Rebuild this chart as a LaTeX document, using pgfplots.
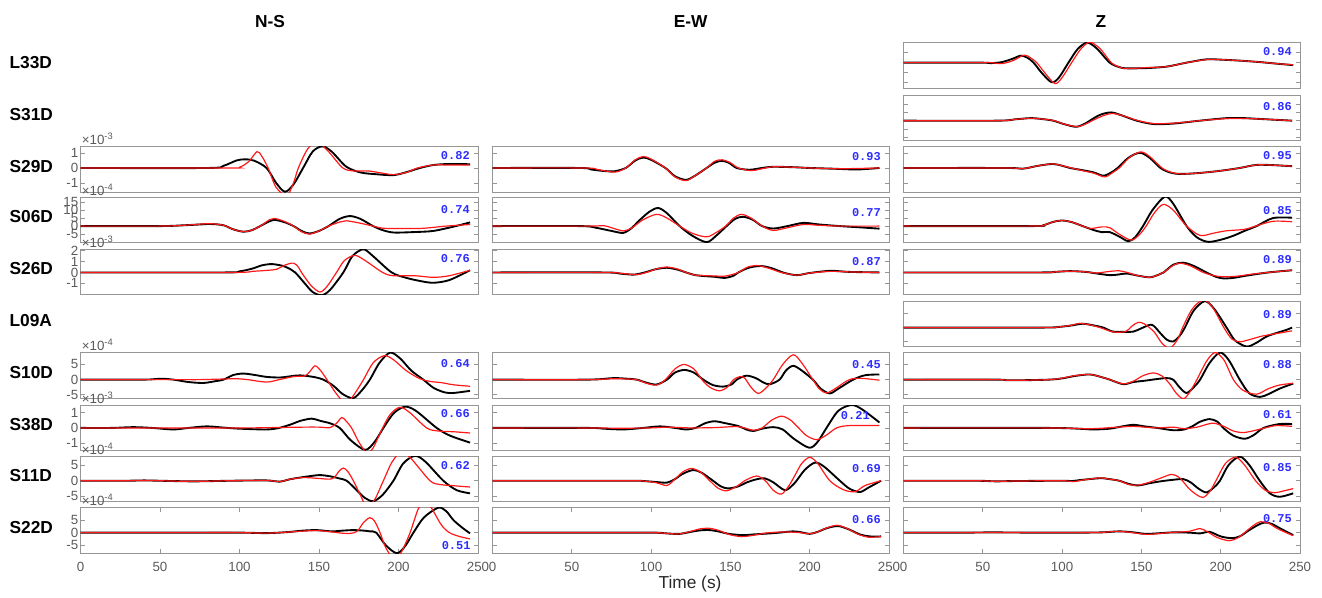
\documentclass[border=0pt]{standalone}
\usepackage{fontspec}
\setmainfont{Liberation Sans}
\newfontfamily\monobf{Liberation Mono}
\usepackage{pgfplots}
\pgfplotsset{compat=1.18}
\definecolor{boxgray}{RGB}{150,150,150}
\definecolor{tickgray}{RGB}{90,90,90}
\definecolor{cblue}{RGB}{45,45,255}
\definecolor{sred}{RGB}{255,25,25}
\pgfplotsset{
 panel/.style={scale only axis, height=34.125pt, xmin=0, xmax=250, anchor=north west,
  axis line style={draw=boxgray, line width=0.6pt},
  tick align=inside, major tick length=3pt,
  major tick style={draw=boxgray, line width=0.5pt},
  xtick=\empty, ytick pos=both, yticklabel pos=left,
  /pgf/number format/assume math mode=true,
  yticklabel style={font=\fontsize{10}{11}\selectfont, text=tickgray, inner sep=1.5pt},
  clip mode=individual},
 ns/.style={width=298.125pt},
 ew/.style={width=297.375pt, yticklabels={}},
 zc/.style={width=297.375pt, yticklabels={}},
 bottom/.style={xtick={0,50,100,150,200,250}, xtick pos=both, xticklabel pos=bottom,
  xticklabel style={font=\fontsize{10}{11}\selectfont, text=tickgray, yshift=-3pt}},
 blk/.style={black, line width=1.4pt, smooth, no marks},
 rd/.style={sred, line width=0.9pt, smooth, no marks},
}
\tikzset{ccnum/.style={anchor=east, inner sep=0pt, font=\monobf\bfseries\fontsize{9}{10}\selectfont, text=cblue},
 expo/.style={anchor=base west, inner sep=0pt, yshift=1.5pt, xshift=0.8pt, font=\fontsize{10}{11}\selectfont, text=tickgray}}
\begin{document}
\begin{tikzpicture}
\path[use as bounding box] (0,0) rectangle (991.5pt,-447.75pt);
\node[anchor=base, font=\bfseries\fontsize{13}{15}\selectfont] at (202.5pt,-20.25pt) {N-S};
\node[anchor=base, font=\bfseries\fontsize{13}{15}\selectfont] at (518pt,-20.25pt) {E-W};
\node[anchor=base, font=\bfseries\fontsize{13}{15}\selectfont] at (825.75pt,-20.25pt) {Z};
\foreach \lab/\yy in {L33D/51.19, S31D/90.41, S29D/129.19, S06D/167.14, S26D/206.14, L09A/244.91, S10D/283.69, S38D/322.91, S11D/361.16, S22D/399.94}
  \node[anchor=base west, inner sep=0pt, font=\bfseries\fontsize{13}{15}\selectfont] at (7pt,-\yy pt) {\lab};
\node[anchor=base, font=\fontsize{13}{15}\selectfont, text={rgb,255:red,40;green,40;blue,40}] at (517.5pt,-441pt) {Time (s)};

% ---------------- L33D ----------------
\begin{axis}[panel, zc, at={(677.625pt,-32.03pt)}, ymin=-2.57, ymax=2.0, ytick={-2,-1,0,1,2}]
\addplot[blk] coordinates {(0,0)(48,0)(55,-0.05)(62,0.05)(69,0.4)(74,0.7)(78,0.5)(82,0)(87,-1.0)(93.4,-1.97)(98,-1.5)(104,0)(110,1.4)(116,2.0)(122,1.4)(130,0)(136,-0.45)(140.6,-0.57)(153,-0.55)(166,-0.4)(178.5,0)(191,0.33)(200,0.3)(212,0.2)(225,0.05)(235,-0.1)(245.7,-0.25)};
\addplot[rd] coordinates {(0,0)(48,0)(55,0)(62,-0.1)(69,0.2)(76,0.75)(80,0.5)(84,0)(89,-1.0)(95.5,-2.1)(100,-1.5)(106,0)(112,1.4)(117.5,2.05)(124,1.4)(131,0)(137,-0.5)(141,-0.6)(153,-0.5)(166,-0.4)(178.5,0)(191,0.3)(200,0.3)(212,0.2)(225,0.05)(235,-0.1)(245.7,-0.22)};
\node[ccnum] at (rel axis cs:0.98,0.80) {0.94};
\end{axis}

% ---------------- S31D ----------------
\begin{axis}[panel, zc, at={(677.625pt,-71.25pt)}, ymin=-2.36, ymax=3.05, ytick={-2,-1,0,1,2,3}]
\addplot[blk] coordinates {(0,0)(59,0)(70,0.15)(80,0.3)(87,0.2)(94.4,0)(101,-0.4)(109,-0.73)(115,-0.3)(117.5,0)(124,0.7)(131,0.98)(138,0.6)(147,0)(157.5,-0.4)(170,-0.35)(187,0)(203.7,0.3)(215,0.3)(225,0.2)(245,0)};
\addplot[rd] coordinates {(0,0)(59,0)(70,0.15)(80,0.28)(87,0.2)(95,0)(102,-0.45)(110,-0.7)(116,-0.3)(119,0)(126,0.6)(132,0.85)(139,0.55)(148,0)(158,-0.35)(170,-0.3)(187,0)(203.7,0.25)(215,0.25)(225,0.2)(245,0)};
\node[ccnum] at (rel axis cs:0.98,0.74) {0.86};
\end{axis}

% ---------------- S29D ----------------
\begin{axis}[panel, ns, at={(60.375pt,-110.03pt)}, ymin=-1.63, ymax=1.43, ytick={-1,0,1}]
\addplot[blk] coordinates {(0,0)(80,0)(90,0.15)(98,0.5)(103,0.58)(109,0.5)(117,0)(123,-1.0)(128.6,-1.6)(134,-1.1)(140,0)(146,1.1)(152,1.45)(158,1.1)(167,0.1)(176,-0.3)(186,-0.42)(197,-0.48)(206,-0.25)(213.5,0)(222,0.2)(232,0.27)(245,0.25)};
\addplot[rd] coordinates {(0,0)(92,0)(100,0.05)(106,0.45)(111,1.1)(114,0.8)(118,0)(123,-1.3)(129.7,-1.85)(134,-1.0)(137,0)(143,1.3)(149,1.75)(156,1.1)(165,0)(172,-0.2)(181,-0.2)(190,-0.35)(197,-0.45)(205,-0.3)(212,0)(222,0.2)(232,0.2)(245,0.2)};
\node[ccnum] at (rel axis cs:0.98,0.80) {0.82};
\node[expo] at (rel axis cs:0,1) {×10\textsuperscript{-3}};
\end{axis}
\begin{axis}[panel, ew, at={(369.375pt,-110.03pt)}, ymin=-1.63, ymax=1.43, ytick={-1,0,1}]
\addplot[blk] coordinates {(0,0)(55,0)(62,-0.1)(70,-0.2)(77,-0.22)(84,0)(90,0.5)(95,0.7)(100,0.55)(109,0)(115,-0.55)(122,-0.8)(128,-0.5)(135,0)(140,0.35)(144.5,0.48)(149,0.35)(154,0)(162,-0.12)(170,0)(177,0.08)(190,0.05)(200,0)(215,-0.05)(230,-0.1)(244,0)};
\addplot[rd] coordinates {(0,0)(58,0)(66,-0.1)(77,-0.28)(84,0)(90,0.55)(95,0.77)(100,0.6)(109,0)(115,-0.6)(122,-0.85)(128,-0.5)(135,0)(140,0.45)(145,0.55)(150,0.35)(155,0)(163,-0.18)(170,-0.05)(177,0.08)(190,0.05)(200,0)(220,-0.05)(244,0)};
\node[ccnum] at (rel axis cs:0.98,0.78) {0.93};
\end{axis}
\begin{axis}[panel, zc, at={(677.625pt,-110.03pt)}, ymin=-1.63, ymax=1.43, ytick={-1,0,1}]
\addplot[blk] coordinates {(0,0)(65,0)(75,-0.05)(85,0.15)(94,0.27)(100,0.15)(105,0)(113,-0.15)(120,-0.3)(126,-0.52)(131,-0.3)(135,0)(142,0.7)(149,1.02)(155,0.7)(162,0)(168,-0.3)(174,-0.4)(185,-0.35)(199,-0.2)(212,0)(222,0.2)(231,0.2)(245,0.12)};
\addplot[rd] coordinates {(0,0)(65,0)(75,-0.05)(85,0.15)(94,0.28)(100,0.15)(106,0)(113,-0.18)(120,-0.35)(127,-0.6)(132,-0.3)(136,0)(143,0.75)(150,1.08)(156,0.7)(163,0)(169,-0.3)(175,-0.4)(185,-0.35)(199,-0.2)(212,0)(222,0.2)(231,0.2)(245,0.12)};
\node[ccnum] at (rel axis cs:0.98,0.80) {0.95};
\end{axis}

% ---------------- S06D ----------------
\begin{axis}[panel, ns, at={(60.375pt,-147.98pt)}, ymin=-10.4, ymax=17.9, ytick={-5,0,5,10,15}]
\addplot[blk] coordinates {(0,0)(50,0)(65,0.5)(75,1.0)(82,1.3)(90,0.5)(96,-2)(102.5,-3.5)(108,-2.5)(113,0)(121,3.75)(128,2.5)(134,0)(139,-3)(144,-4.6)(150,-3)(156,0)(163,4.5)(169.5,6.25)(176,4.5)(184,0)(190,-2.5)(197,-4)(210,-3.7)(222,-3)(236,0)(245,2.3)};
\addplot[rd] coordinates {(0,0)(50,0)(65,0.5)(75,1.2)(82,1.5)(90,0.5)(96,-2)(102.5,-3.5)(108,-2.5)(113,0)(119,4)(122,4.8)(128,3)(134,0)(139,-3.5)(144,-5)(150,-3)(156,0)(163,2.5)(167,3.3)(175,2)(184,0)(190,-1.3)(200,-1.5)(215,-1.4)(230,0)(245,1)};
\node[ccnum] at (rel axis cs:0.98,0.74) {0.74};
\node[expo] at (rel axis cs:0,1) {×10\textsuperscript{-4}};
\end{axis}
\begin{axis}[panel, ew, at={(369.375pt,-147.98pt)}, ymin=-10.4, ymax=17.9, ytick={-5,0,5,10,15}]
\addplot[blk] coordinates {(0,0)(55,0)(65,-1)(75,-3)(82.5,-4.2)(88,-1)(92,3)(99,9)(104.5,11.25)(110,8)(118,0)(126,-6)(135,-10)(141,-6)(147.6,0)(153,4.5)(158,5.8)(164,4)(170,0)(177,-1.5)(186,0)(196,2)(206,1)(219,0)(232,-0.8)(244,-1.6)};
\addplot[rd] coordinates {(0,0)(60,0)(70,0.3)(75,-1)(82.5,-3)(88,-1)(95,4)(103.5,7.3)(110,5)(118,0)(126,-4.5)(135,-6.7)(141,-4)(147,0)(152,5)(157,7.3)(163,5)(170,0)(177,-2.7)(186,-1)(196,1)(206,0.5)(219,0)(244,0)};
\node[ccnum] at (rel axis cs:0.98,0.67) {0.77};
\end{axis}
\begin{axis}[panel, zc, at={(677.625pt,-147.98pt)}, ymin=-10.4, ymax=17.9, ytick={-5,0,5,10,15}]
\addplot[blk] coordinates {(0,0)(80,0)(88,0.5)(94,2.5)(99.7,3.5)(106,2.5)(113,0)(120,-2.5)(125,-3.75)(130,-3.75)(136,-6.5)(141.7,-9.4)(146,-7)(151,0)(157,10)(164.8,18.3)(170,14)(178.5,0)(185,-7)(192,-9.8)(200,-8.5)(208,-6)(215,-3)(222.6,0)(233,5)(245,5.2)};
\addplot[rd] coordinates {(0,0)(80,0)(88,0.5)(94,2.5)(99.7,3.5)(106,2.5)(113,0)(118,-1.5)(125,-0.5)(130,-1)(136,-5)(143.7,-8.75)(149,-5)(153,0)(158,8)(163.7,13.5)(170,10)(178.5,0)(187,-5.8)(195,-4.5)(203,-3)(215,-2)(222,0)(233,3)(245,2.7)};
\node[ccnum] at (rel axis cs:0.98,0.70) {0.85};
\end{axis}

% ---------------- S26D ----------------
\begin{axis}[panel, ns, at={(60.375pt,-186.98pt)}, ymin=-2.06, ymax=2.13, ytick={-1,0,1,2}]
\addplot[blk] coordinates {(0,0)(90,0)(100,0.1)(108,0.35)(114,0.65)(120,0.77)(126,0.65)(130,0.45)(135,0)(141,-1)(146,-1.8)(151.7,-2.1)(157,-1.6)(165.3,0)(171,1.5)(177.9,2.13)(184,1.5)(195.7,0)(205,-0.5)(214,-0.8)(222,-0.95)(232,-0.7)(245,0.2)};
\addplot[rd] coordinates {(0,0)(95,0)(108,0.1)(118,0.2)(123.4,0.3)(129,0.7)(134,0.86)(137,0.5)(139,0)(145,-1.2)(150.6,-1.8)(155,-1.3)(161,0)(166,1.1)(172.6,1.57)(179,1.1)(190,0)(196.6,-0.3)(210,-0.3)(222,-0.45)(232,-0.3)(245,0.2)};
\node[ccnum] at (rel axis cs:0.98,0.80) {0.76};
\node[expo] at (rel axis cs:0,1) {×10\textsuperscript{-3}};
\end{axis}
\begin{axis}[panel, ew, at={(369.375pt,-186.98pt)}, ymin=-2.06, ymax=2.13, ytick={-1,0,1,2}]
\addplot[blk] coordinates {(0,0)(70,0)(80,-0.1)(89,-0.2)(96,0)(103,0.3)(110,0.43)(117,0.25)(122,0)(128,-0.25)(135,-0.35)(140,-0.4)(146.5,-0.5)(152,-0.3)(155,0)(162,0.45)(169.6,0.59)(177,0.35)(183,0)(191.7,-0.25)(200,-0.05)(213,0.15)(225,0.05)(244,0)};
\addplot[rd] coordinates {(0,0)(70,0)(82,-0.1)(91,-0.2)(97,0)(104,0.35)(110,0.5)(117,0.3)(122,0)(128,-0.25)(135,-0.3)(141,-0.33)(146,-0.35)(151,-0.2)(155,0)(161,0.5)(167.5,0.63)(175,0.35)(182,0)(191.7,-0.25)(200,-0.05)(213,0.1)(225,0.05)(244,0)};
\node[ccnum] at (rel axis cs:0.98,0.74) {0.87};
\end{axis}
\begin{axis}[panel, zc, at={(677.625pt,-186.98pt)}, ymin=-2.06, ymax=2.13, ytick={-1,0,1,2}]
\addplot[blk] coordinates {(0,0)(86,0)(95,0.05)(105,0.12)(115,0.05)(122,-0.1)(130,-0.25)(135,-0.2)(140.7,-0.1)(148,-0.3)(155.4,-0.45)(161,-0.2)(164,0)(170,0.7)(176.4,0.9)(183,0.6)(191,0)(197,-0.4)(201.6,-0.55)(208,-0.5)(216,-0.3)(230,0)(245,0.2)};
\addplot[rd] coordinates {(0,0)(86,0)(95,0.05)(105,0.12)(115,0.05)(122,-0.05)(130,0.1)(136,0.15)(141,0)(148,-0.3)(155.4,-0.45)(161,-0.2)(164,0)(170,0.65)(174.5,0.85)(181,0.6)(189,0)(196,-0.3)(201.6,-0.4)(210,-0.35)(220,-0.15)(230,0)(245,0.2)};
\node[ccnum] at (rel axis cs:0.98,0.765) {0.89};
\end{axis}

% ---------------- L09A ----------------
\begin{axis}[panel, zc, at={(677.625pt,-225.75pt)}, ymin=-1.33, ymax=1.87, ytick={-1,0,1}]
\addplot[blk] coordinates {(0,0)(86,0)(98,0.05)(106,0.15)(113,0.27)(120,0.15)(126,0)(132,-0.28)(140,-0.3)(145,-0.28)(150,-0.05)(155.4,0.2)(158,0.1)(162,-0.4)(166,-0.85)(170,-0.98)(174,-0.6)(177.4,0)(183,1.2)(190,1.86)(196,1.3)(203.7,0)(209,-0.9)(216.3,-1.33)(222,-1.1)(228.9,-0.63)(236,-0.35)(241.5,-0.16)(245,0)};
\addplot[rd] coordinates {(0,0)(86,0)(98,0.05)(106,0.17)(111,0.3)(118,0.18)(124,0)(132,-0.3)(140,-0.28)(144,0.1)(148,0.37)(152,0.25)(158,-0.3)(163,-1.1)(168,-1.45)(173,-0.8)(176,0)(182,1.3)(189,1.95)(195,1.4)(202,0)(207,-0.8)(212,-1.0)(218,-0.85)(226,-0.6)(236,-0.4)(245,-0.23)};
\node[ccnum] at (rel axis cs:0.98,0.71) {0.89};
\end{axis}

% ---------------- S10D ----------------
\begin{axis}[panel, ns, at={(60.375pt,-264.53pt)}, ymin=-6.13, ymax=8.87, ytick={-5,0,5}]
\addplot[blk] coordinates {(0,0)(40,0)(50,0.3)(58.4,0)(68,-0.8)(77.3,-1.1)(85,-0.5)(90,0)(96,1.5)(102.4,2)(110,1.5)(117,0.9)(125.5,0.7)(132,1.1)(138,1.4)(146.4,0.9)(152.7,0)(159,-2)(165,-4.8)(171.6,-6.1)(177,-3.5)(182,0)(188,5.5)(194.7,8.9)(201,7)(208,3)(215.6,0)(222,-2.7)(229,-4.2)(234.5,-4.4)(245,-3.7)};
\addplot[rd] coordinates {(0,0)(60,0)(75,0)(90,0.2)(98.2,0.3)(105,0)(117,-0.8)(125,0)(134,1)(141,1.2)(144,2.5)(147.5,4.55)(151,3)(155,0)(160,-4)(165,-7.2)(168,-7.5)(172,-5)(178,0)(184,5.5)(191,7.9)(197,6.5)(205,2.9)(213.5,0.3)(220,-0.6)(227,-1.0)(234.5,-1.7)(245,-2.2)};
\node[ccnum] at (rel axis cs:0.98,0.77) {0.64};
\node[expo] at (rel axis cs:0,1) {×10\textsuperscript{-4}};
\end{axis}
\begin{axis}[panel, ew, at={(369.375pt,-264.53pt)}, ymin=-6.13, ymax=8.87, ytick={-5,0,5}]
\addplot[blk] coordinates {(0,0)(60,0)(76,0.5)(85,0.3)(91,0)(97,-1)(103.5,-1.6)(110,0)(115,2.3)(121,3.2)(127,2.3)(132.9,0)(139,-1.8)(145.5,-2.3)(151,-1.5)(154,0)(160,1.3)(166,0.5)(171,-1)(175,-1.5)(181,0)(185,3)(189.6,4.55)(195,3)(202,0)(207,-3)(212.7,-4.55)(218,-3)(227.4,0)(235,1.45)(244,1.7)};
\addplot[rd] coordinates {(0,0)(60,0)(76,0.3)(85,0.2)(91,0)(97,-1.2)(103.5,-1.8)(109,0)(115,3.5)(120.7,5)(127,3.5)(132,0)(137,-2.5)(143,-3.7)(148,-2.5)(152,0)(156,1)(159,0.5)(163,-2.5)(167.5,-4.55)(172,-3)(177,0)(183,5)(189.6,8.2)(195,5.5)(202,0)(206,-3)(210.6,-4.4)(216,-3)(225,0)(233,0.4)(244,-0.2)};
\node[ccnum] at (rel axis cs:0.98,0.73) {0.45};
\end{axis}
\begin{axis}[panel, zc, at={(677.625pt,-264.53pt)}, ymin=-6.13, ymax=8.87, ytick={-5,0,5}]
\addplot[blk] coordinates {(0,0)(58,0)(65,-0.2)(75,-0.2)(92,0)(100,0.4)(108,1.2)(117.5,1.7)(125,0.8)(130,0)(138.5,-1.5)(145,-0.8)(153,-0.3)(160,0.2)(166,0.5)(170,0)(174,-2.5)(178.4,-4.4)(183,-2.5)(187,0)(193,5.5)(199.5,8.9)(205,6.5)(212,0)(218,-4.5)(224.7,-5.7)(230,-4.8)(237,-3)(245.7,-1.3)};
\addplot[rd] coordinates {(0,0)(58,0)(65,-0.2)(75,-0.2)(92,0)(100,0.5)(108,1.3)(117.5,1.7)(125,0.8)(130,0)(138.5,-1.4)(145,-0.5)(151,1.3)(157.5,2.2)(163,1.2)(168,-1.5)(172,-4.5)(176.4,-6.3)(180,-4.5)(185,0)(191,6)(196.3,8.9)(202,6.5)(208,0)(214,-3.5)(222.6,-4.8)(230,-3)(237,-1.8)(245.7,-1.2)};
\node[ccnum] at (rel axis cs:0.98,0.73) {0.88};
\end{axis}

% ---------------- S38D ----------------
\begin{axis}[panel, ns, at={(60.375pt,-303.75pt)}, ymin=-1.46, ymax=1.48, ytick={-1,0,1}]
\addplot[blk] coordinates {(0,0)(20,0)(33,0.05)(45,0)(58.4,-0.1)(68,0)(79.4,0.1)(90,0.02)(100,-0.05)(117,-0.1)(125,0)(133,0.25)(138,0.45)(145.4,0.6)(151,0.45)(156.9,0.3)(163,0)(170,-0.8)(179,-1.42)(185,-0.9)(190.5,0)(197,0.95)(204,1.37)(211,1.1)(224,0)(232.4,-0.5)(245,-0.95)};
\addplot[rd] coordinates {(0,0)(100,0)(120,0.02)(140,0.05)(150,0.05)(157,0.02)(161,0.3)(164.3,0.67)(167,0.45)(170.5,0)(175,-0.9)(180,-1.6)(184,-1.3)(190,0)(195,0.9)(200.9,1.33)(207,1.0)(217.7,0)(225,-0.2)(235,-0.25)(245,-0.33)};
\node[ccnum] at (rel axis cs:0.98,0.82) {0.66};
\node[expo] at (rel axis cs:0,1) {×10\textsuperscript{-3}};
\end{axis}
\begin{axis}[panel, ew, at={(369.375pt,-303.75pt)}, ymin=-1.46, ymax=1.48, ytick={-1,0,1}]
\addplot[blk] coordinates {(0,0)(60,0)(70,-0.05)(82.5,-0.1)(95,0)(105.6,0.1)(115,0)(122,-0.1)(128,0)(134,0.3)(140,0.43)(147,0.3)(155,0.12)(160,-0.1)(164.4,-0.2)(170,-0.05)(177,0.05)(183,-0.1)(190,-0.7)(199.7,-1.28)(205,-0.9)(210.6,0)(218,1.1)(226.4,1.48)(233,1.2)(244,0.35)};
\addplot[rd] coordinates {(0,0)(60,0)(80,-0.02)(100,0)(110,0.05)(125,0)(140,0.02)(155,0.08)(164.4,-0.15)(170,0)(176,0.5)(182.3,0.76)(188,0.5)(193,0)(198,-0.5)(204.3,-0.76)(210,-0.5)(217,0)(225,0.15)(244,0.15)};
\node[ccnum] at (rel axis cs:0.952,0.76) {0.21};
\end{axis}
\begin{axis}[panel, zc, at={(677.625pt,-303.75pt)}, ymin=-1.46, ymax=1.48, ytick={-1,0,1}]
\addplot[blk] coordinates {(0,0)(90,0)(110,-0.05)(119.6,-0.1)(130,-0.05)(138,0.1)(145,0.2)(152,0.1)(160,0)(170,-0.15)(177,-0.1)(182,0.1)(187,0.4)(193,0.57)(198,0.4)(201.6,0)(208,-0.5)(215.2,-0.7)(221,-0.45)(227,0)(237,0.25)(245,0.25)};
\addplot[rd] coordinates {(0,0)(90,0)(115,-0.05)(125,-0.02)(135,0.05)(145,0.1)(152,0.05)(160,0)(170,0.05)(177,-0.05)(185,0.05)(192,0.25)(196,0.3)(202,0.1)(208,-0.2)(214,-0.3)(220,-0.2)(228,0)(235,0.15)(245,0.1)};
\node[ccnum] at (rel axis cs:0.98,0.78) {0.61};
\end{axis}

% ---------------- S11D ----------------
\begin{axis}[panel, ns, at={(60.375pt,-342pt)}, ymin=-6.6, ymax=7.85, ytick={-5,0,5}]
\addplot[blk] coordinates {(0,0)(30,0)(40,0.1)(70,-0.2)(95,0)(117,0.1)(125,-0.3)(132,0.5)(138,1)(145,1.5)(150.6,1.8)(157,1.4)(163,0.7)(167.4,0)(173.7,-3)(179,-5.5)(184.2,-6.5)(190,-4.5)(196.8,0)(203,5.5)(210.4,7.9)(217,6)(228.2,0)(236.6,-3)(245,-4)};
\addplot[rd] coordinates {(0,0)(30,0)(40,0.1)(70,-0.2)(95,0)(117,0.1)(125,-0.3)(132,0.5)(140,1)(148,0.8)(156.9,0.5)(160,1.2)(162.5,3)(165.3,4)(168,3)(171.6,0)(176,-4.5)(180,-8.2)(185,-6)(190.5,0)(196,6)(202,9.2)(208,7)(219.8,0)(226,-1.2)(232.4,-1.5)(245,-2)};
\node[ccnum] at (rel axis cs:0.98,0.78) {0.62};
\node[expo] at (rel axis cs:0,1) {×10\textsuperscript{-4}};
\end{axis}
\begin{axis}[panel, ew, at={(369.375pt,-342pt)}, ymin=-6.6, ymax=7.85, ytick={-5,0,5}]
\addplot[blk] coordinates {(0,0)(85,0)(95,-0.1)(103,-0.4)(110,-0.6)(115,0.5)(120,2.2)(126.6,3.4)(132,2.5)(139,0)(144,-1.8)(148.6,-2.45)(155,-1.8)(160,-0.6)(166,0.4)(171.7,0.75)(177,-0.5)(184.3,-3)(189,-1.5)(191.7,0)(197,3.5)(203.3,5.75)(209,4.5)(219,0)(225,-2.5)(231.6,-3.6)(237,-2.2)(245,0)};
\addplot[rd] coordinates {(0,0)(85,0)(95,-0.1)(103,-0.6)(110,-1.5)(115,0.5)(120,2.8)(125.5,3.9)(131,2.8)(137,0)(142,-2.3)(147.6,-3.2)(154,-1.8)(159,0)(166.5,1.5)(172,0)(177,-3)(182.2,-4.25)(187,-1.5)(191,2)(195,5.5)(200,7.45)(205,5.5)(212.7,0)(221,-2.8)(228.5,-3.5)(235,-1.5)(245,0)};
\node[ccnum] at (rel axis cs:0.98,0.73) {0.69};
\end{axis}
\begin{axis}[panel, zc, at={(677.625pt,-342pt)}, ymin=-6.6, ymax=7.85, ytick={-5,0,5}]
\addplot[blk] coordinates {(0,0)(45,0)(58,-0.2)(70,-0.1)(100,0)(106,-0.1)(113,0.3)(124,0.8)(130,0.5)(136,0)(142,-1)(148,-1.5)(155,-0.8)(162,-0.2)(170,0.3)(176.4,0.5)(181,-0.5)(186,-2.5)(191,-3.7)(196,-2)(199.5,0)(205,5)(212,7.66)(218,5)(224.6,0)(231,-4)(237.3,-5.1)(245.7,-4)};
\addplot[rd] coordinates {(0,0)(45,0)(58,-0.2)(70,-0.1)(100,0)(107,-0.3)(114,0.3)(124,0.9)(130,0.5)(136,0)(142,-1.2)(148,-1.4)(155,-0.5)(163,1)(169,2)(174,1)(180,-2.5)(185,-4.5)(189,-5.3)(193,-3.5)(197,0)(203,5.5)(209.5,7.45)(215,5)(222,0)(228,-3)(234,-3.8)(240,-3.2)(245.7,-2.5)};
\node[ccnum] at (rel axis cs:0.98,0.74) {0.85};
\end{axis}

% ---------------- S22D ----------------
\begin{axis}[panel, ns, bottom, at={(60.375pt,-380.78pt)}, ymin=-8.16, ymax=9.87, ytick={-5,0,5}]
\addplot[blk] coordinates {(0,0)(60,0)(100,0)(117,-0.2)(130,0.2)(140,0.8)(148.6,1)(158,0.5)(165,0.8)(171.6,1)(178,0.8)(182,0.5)(186,0)(192,-5)(198.9,-8.16)(204,-5.5)(209.4,0)(216,6)(225,9.87)(230,8.5)(234.5,5)(240,2)(245,-0.3)};
\addplot[rd] coordinates {(0,0)(60,0)(100,0)(117,-0.2)(130,0.2)(140,0.6)(148.6,0.8)(158,0.3)(164,-0.2)(169.5,-0.3)(174,0.5)(178,4)(182,5.9)(185,4.5)(188.4,0)(192,-6)(197.8,-11)(202,-7.5)(207.3,0)(212.5,9.5)(217,12.5)(221,9.5)(227,3)(232,0)(238.7,-1.6)(245,-2.5)};
\node[ccnum] at (rel axis cs:0.982,0.17) {0.51};
\node[expo] at (rel axis cs:0,1) {×10\textsuperscript{-4}};
\end{axis}
\begin{axis}[panel, ew, bottom, at={(369.375pt,-380.78pt)}, ymin=-8.16, ymax=9.87, ytick={-5,0,5}]
\addplot[blk] coordinates {(0,0)(95,0)(105,-0.1)(112,-0.4)(118,-0.5)(125,0.3)(131,0.9)(137,1.0)(143,0.4)(149,-0.5)(158,-1.0)(165,-0.7)(175,-0.3)(181,0)(189.6,0.5)(195,0.1)(200,-0.5)(205,0.3)(211,1.8)(218,2.6)(225,1.2)(232,-0.8)(238,-1.5)(245,-1.5)};
\addplot[rd] coordinates {(0,0)(95,0)(105,-0.1)(112,-0.4)(118,-0.5)(125,0.5)(131,1.5)(137,1.7)(143,0.8)(149,-0.7)(157,-1.6)(165,-1.0)(172,-0.2)(180,0.2)(189,0.2)(195,-0.1)(200,-0.5)(205,0.3)(210,1.7)(217,2.9)(223,1.8)(230,-0.5)(237,-1.8)(245,-1.6)};
\node[ccnum] at (rel axis cs:0.98,0.73) {0.66};
\end{axis}
\begin{axis}[panel, zc, bottom, at={(677.625pt,-380.78pt)}, ymin=-8.16, ymax=9.87, ytick={-5,0,5}]
\addplot[blk] coordinates {(0,0)(40,0)(55,0.1)(80,0)(110,0)(125,0.1)(136.4,0.5)(145,0.1)(153,-0.5)(162,-0.2)(170,0.1)(180,0)(187,-0.3)(193,0.3)(200,-1.5)(206.8,-2.2)(212,-1.5)(218,1)(224,3.2)(227.8,4)(232,3.5)(238,1.5)(245.7,-1)};
\addplot[rd] coordinates {(0,0)(40,0)(55,0.1)(80,0)(110,0)(125,0.1)(134,0.5)(142,0.2)(153,-0.7)(162,-0.3)(170,0.1)(180,0.5)(187,1.6)(192,0.2)(198,-2)(205.5,-3.2)(211,-2)(216,0.5)(221,3)(225,4.3)(230,3.8)(236,1.5)(245.7,-1.2)};
\node[ccnum] at (rel axis cs:0.98,0.77) {0.75};
\end{axis}
\end{tikzpicture}
\end{document}
